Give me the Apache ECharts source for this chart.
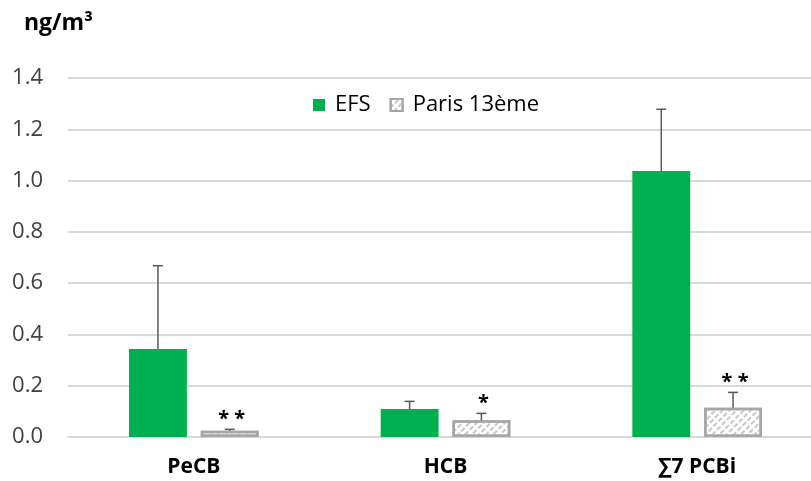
<!DOCTYPE html>
<html>
<head>
<meta charset="utf-8">
<script src="https://cdn.jsdelivr.net/npm/echarts@6/dist/echarts.min.js"></script>
<style>
html,body{margin:0;padding:0;background:#fff;overflow:hidden;}
#chart{width:823px;height:481px;}
</style>
</head>
<body>
<div id="chart"></div>
<script>
const categories = ['PeCB', 'HCB', '∑7 PCBi'];
const seriesNames = ['EFS', 'Paris 13ème'];
const efsValues = [0.343, 0.109, 1.037];
const efsSd = [0.325, 0.030, 0.241];
const parisValues = [0.024, 0.065, 0.114];
const parisSd = [0.006, 0.027, 0.060];
const significance = ['* *', '*', '* *'];
const yTicks = [0, 0.2, 0.4, 0.6, 0.8, 1.0, 1.2, 1.4];

const FONT = '"Open Sans", "Liberation Sans", sans-serif';
const BAR_W = 0.23, BAR_GAP = 0.24;
const OFFSET = (BAR_W + BAR_W * BAR_GAP) / 2;

function errData(vals, sds, side) {
  return vals.map((v, i) => [i, v, sds[i], side]);
}

function renderErr(params, api) {
  const ci = api.value(0), v = api.value(1), sd = api.value(2), side = api.value(3);
  const bw = api.size([1, 0])[0];
  const base = api.coord([ci, v]);
  const x = base[0] + side * OFFSET * bw;
  const top = api.coord([ci, v + sd])[1];
  const style = { stroke: '#595959', lineWidth: 1.5 };
  const children = [
    { type: 'line', shape: { x1: x, y1: base[1], x2: x, y2: top }, style: style },
    { type: 'line', shape: { x1: x - 5, y1: top, x2: x + 5, y2: top }, style: style }
  ];
  if (side > 0) {
    children.push({
      type: 'text',
      style: {
        text: significance[params.dataIndex], x: x + 2, y: top - 10,
        align: 'center', verticalAlign: 'middle',
        fontSize: 20, fontWeight: 'bold', fill: '#000',
        fontFamily: FONT
      }
    });
  }
  return { type: 'group', children: children };
}

const chart = echarts.init(document.getElementById('chart'), null, { renderer: 'canvas' });
chart.setOption({
  animation: false,
  backgroundColor: '#fff',
  textStyle: { fontFamily: FONT },
  title: {
    text: 'ng/m³', left: 19, top: 7,
    textStyle: { fontSize: 23, fontWeight: 'bold', color: '#000', fontFamily: FONT }
  },
  legend: {
    data: seriesNames, left: 308, top: 89,
    icon: 'rect', itemWidth: 12, itemHeight: 12, itemGap: 19,
    textStyle: { fontSize: 22, color: '#000', padding: [0, 0, 0, 5], fontFamily: FONT }
  },
  grid: { left: 68, top: 78, right: 0, bottom: 44 },
  xAxis: {
    type: 'category', data: categories,
    axisLine: { lineStyle: { color: '#D9D9D9', width: 2 } },
    axisTick: { show: false },
    axisLabel: { fontSize: 21, fontWeight: 'bold', color: '#000', margin: 20, fontFamily: FONT }
  },
  yAxis: {
    type: 'value', min: yTicks[0], max: yTicks[yTicks.length - 1], interval: 0.2,
    axisLine: { show: false }, axisTick: { show: false },
    axisLabel: { fontSize: 22, color: '#404040', margin: 25, fontFamily: FONT, formatter: v => v.toFixed(1) },
    splitLine: { lineStyle: { color: '#D9D9D9', width: 2 } }
  },
  series: [
    {
      name: seriesNames[0], type: 'bar', data: efsValues,
      barWidth: (BAR_W * 100) + '%', barGap: (BAR_GAP * 100) + '%',
      itemStyle: { color: '#00B050' }
    },
    {
      name: seriesNames[1], type: 'bar', data: parisValues,
      barWidth: (BAR_W * 100) + '%', barGap: (BAR_GAP * 100) + '%',
      itemStyle: {
        color: '#ffffff', borderColor: '#A6A6A6', borderWidth: 2.5,
        decal: {
          symbol: 'rect', symbolSize: 1,
          dashArrayX: [[5, 2]], dashArrayY: [2, 3],
          rotation: -Math.PI / 4, color: '#C8C8C8'
        }
      }
    },
    {
      type: 'custom', renderItem: renderErr, data: errData(efsValues, efsSd, -1),
      encode: { x: 0, y: 1 }, z: 5, silent: true
    },
    {
      type: 'custom', renderItem: renderErr, data: errData(parisValues, parisSd, 1),
      encode: { x: 0, y: 1 }, z: 5, silent: true
    }
  ]
});
</script>
</body>
</html>
